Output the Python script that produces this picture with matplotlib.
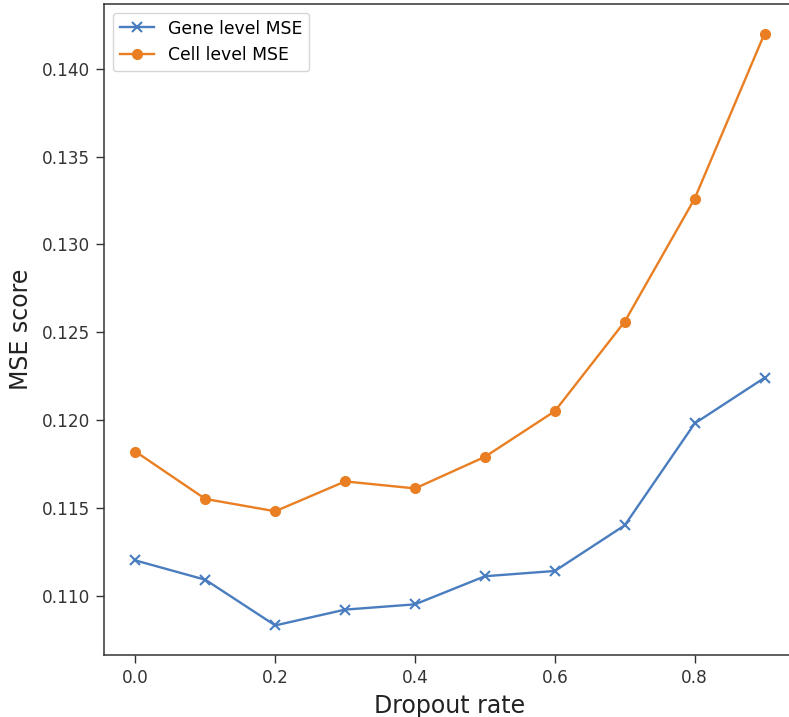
import matplotlib
matplotlib.use("Agg")
import matplotlib.pyplot as plt

dropout_rates = [0.0, 0.1, 0.2, 0.3, 0.4, 0.5, 0.6, 0.7, 0.8, 0.9]
gene_mse = [0.1120, 0.1109, 0.1083, 0.1092, 0.1095, 0.1111, 0.1114, 0.1140, 0.1198, 0.1224]
cell_mse = [0.1182, 0.1155, 0.1148, 0.1165, 0.1161, 0.1179, 0.1205, 0.1256, 0.1326, 0.1420]
xticks = [0.0, 0.2, 0.4, 0.6, 0.8]
yticks = [0.110, 0.115, 0.120, 0.125, 0.130, 0.135, 0.140]

W, H = 789, 717
fig = plt.figure(figsize=(W / 100, H / 100), dpi=100)
ax = fig.add_axes([104 / W, (H - 655) / H, 692 / W, 651 / H])

ax.plot(dropout_rates, gene_mse, marker="x", color="#4a7dbf", lw=1.7, ms=7.5, mew=1.5,
        label="Gene level MSE")
ax.plot(dropout_rates, cell_mse, marker="o", color="#e97f22", lw=1.7, ms=7,
        label="Cell level MSE")

ax.set_xticks(xticks)
ax.set_yticks(yticks)
ax.set_xticklabels([f"{t:.1f}" for t in xticks])
ax.set_yticklabels([f"{t:.3f}" for t in yticks])
ax.tick_params(labelsize=12.2, colors="#333333", labelcolor="#333333",
               length=5.8, width=1.0, pad=4.2)
ax.set_xlabel("Dropout rate", fontsize=17, color="#222222", labelpad=5)
ax.set_ylabel("MSE score", fontsize=17, color="#222222", labelpad=6)
for s in ax.spines.values():
    s.set_color("#333333")
    s.set_linewidth(1.1)
ax.spines["right"].set_visible(False)
ax.legend(loc="upper left", fontsize=12.4, borderaxespad=0.5)

fig.savefig("out.png", dpi=100)
